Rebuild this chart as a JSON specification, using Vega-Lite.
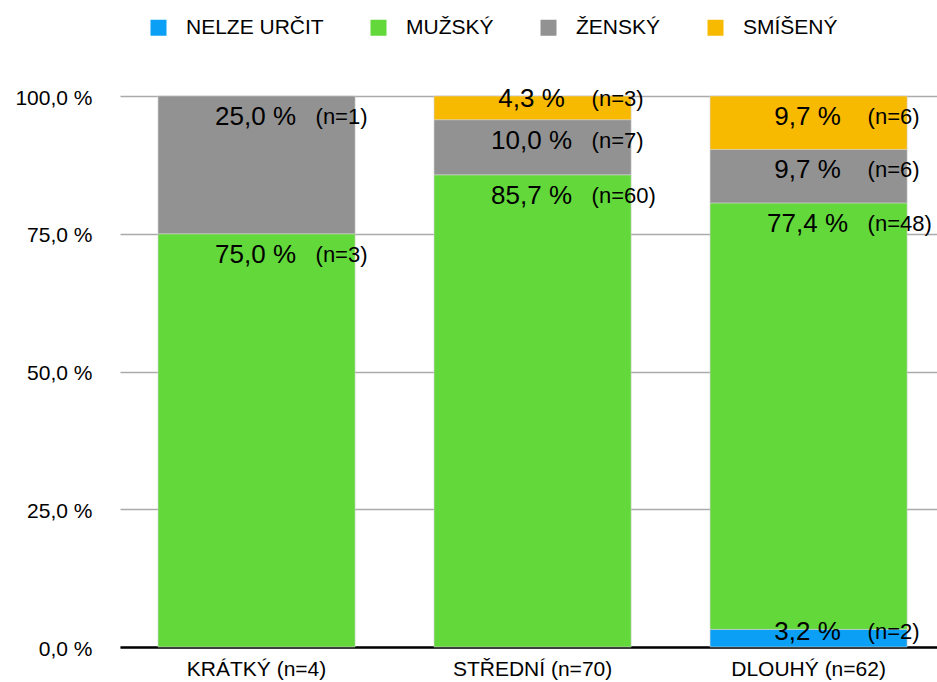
{
  "$schema": "https://vega.github.io/schema/vega-lite/v6.json",
  "width": 817,
  "height": 551,
  "autosize": "none",
  "padding": {"left": 120, "top": 96, "right": 0, "bottom": 35},
  "background": "white",
  "config": {
    "font": "Liberation Sans",
    "view": {"stroke": null}
  },
  "data": {
    "values": [
      {"category": "KRÁTKÝ (n=4)", "gender": "MUŽSKÝ", "pct": 75.0, "n": 3},
      {"category": "KRÁTKÝ (n=4)", "gender": "ŽENSKÝ", "pct": 25.0, "n": 1},
      {"category": "STŘEDNÍ (n=70)", "gender": "MUŽSKÝ", "pct": 85.7, "n": 60},
      {"category": "STŘEDNÍ (n=70)", "gender": "ŽENSKÝ", "pct": 10.0, "n": 7},
      {"category": "STŘEDNÍ (n=70)", "gender": "SMÍŠENÝ", "pct": 4.3, "n": 3},
      {"category": "DLOUHÝ (n=62)", "gender": "NELZE URČIT", "pct": 3.2, "n": 2},
      {"category": "DLOUHÝ (n=62)", "gender": "MUŽSKÝ", "pct": 77.4, "n": 48},
      {"category": "DLOUHÝ (n=62)", "gender": "ŽENSKÝ", "pct": 9.7, "n": 6},
      {"category": "DLOUHÝ (n=62)", "gender": "SMÍŠENÝ", "pct": 9.7, "n": 6}
    ]
  },
  "transform": [
    {"calculate": "indexof(['NELZE URČIT','MUŽSKÝ','ŽENSKÝ','SMÍŠENÝ'], datum.gender)", "as": "ord"}
  ],
  "encoding": {
    "x": {
      "field": "category",
      "type": "nominal",
      "sort": ["KRÁTKÝ (n=4)", "STŘEDNÍ (n=70)", "DLOUHÝ (n=62)"],
      "scale": {"paddingInner": 0.286, "paddingOuter": 0.123, "align": 0.56},
      "axis": {
        "title": null,
        "labelAngle": 0,
        "labelFontSize": 21,
        "labelColor": "black",
        "labelPadding": 11,
        "ticks": false,
        "domain": true,
        "domainColor": "black",
        "domainWidth": 2.5
      }
    }
  },
  "layer": [
    {
      "mark": {"type": "bar", "stroke": "#d0d0d0", "strokeWidth": 0.6},
      "encoding": {
        "y": {
          "field": "pct",
          "type": "quantitative",
          "stack": "zero",
          "scale": {"domain": [0, 100], "nice": false},
          "axis": {
            "title": null,
            "values": [0, 25, 50, 75, 100],
            "labelExpr": "replace(format(datum.value, '.1f'), '.', ',') + ' %'",
            "labelFontSize": 21,
            "labelColor": "black",
            "labelPadding": 28,
            "labelBaseline": "middle",
            "labelOffset": 2,
            "domain": false,
            "ticks": false,
            "grid": true,
            "gridColor": "#aaaaaa",
            "gridWidth": 1.5
          }
        },
        "color": {
          "field": "gender",
          "type": "nominal",
          "scale": {
            "domain": ["NELZE URČIT", "MUŽSKÝ", "ŽENSKÝ", "SMÍŠENÝ"],
            "range": ["#0BA0F5", "#63D83B", "#929292", "#F8BA00"]
          },
          "legend": {
            "title": null,
            "orient": "none",
            "legendX": 28,
            "legendY": -79,
            "direction": "horizontal",
            "symbolType": "square",
            "symbolSize": 256,
            "symbolStrokeWidth": 0,
            "symbolOpacity": 1,
            "labelFontSize": 21,
            "labelColor": "black",
            "labelOffset": 17,
            "columnPadding": 44
          }
        },
        "order": {"field": "ord", "type": "quantitative", "sort": "ascending"}
      }
    },
    {
      "transform": [
        {"stack": "pct", "groupby": ["category"], "sort": [{"field": "ord", "order": "ascending"}], "as": ["y0", "y1"]},
        {"calculate": "datum.pct < 5 ? datum.y1 - 0.5 : datum.y1 - 3.8", "as": "labelY"},
        {"calculate": "replace(format(datum.pct, '.1f'), '.', ',') + ' %'", "as": "pctLabel"},
        {"calculate": "'(n=' + datum.n + ')'", "as": "nLabel"}
      ],
      "layer": [
        {
          "mark": {"type": "text", "fontSize": 26, "color": "black", "baseline": "middle", "align": "center", "dx": -1},
          "encoding": {
            "y": {"field": "labelY", "type": "quantitative"},
            "text": {"field": "pctLabel"}
          }
        },
        {
          "mark": {"type": "text", "fontSize": 22, "color": "black", "baseline": "middle", "align": "left", "dx": 59},
          "encoding": {
            "y": {"field": "labelY", "type": "quantitative"},
            "text": {"field": "nLabel"}
          }
        }
      ]
    }
  ]
}
